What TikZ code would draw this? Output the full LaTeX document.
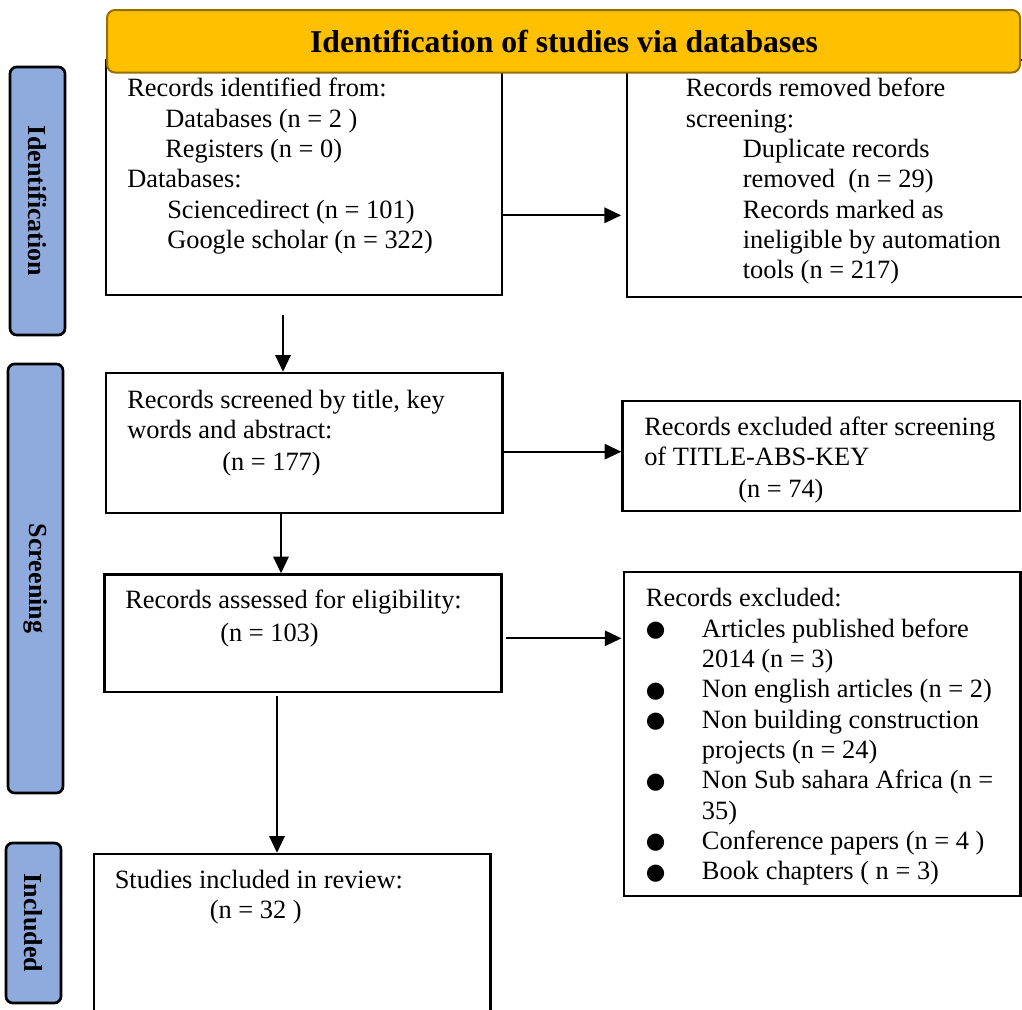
\documentclass[tikz,border=0pt]{standalone}
\usepackage{fontspec}
\setmainfont{Liberation Serif}
\newfontfamily\dejavu{DejaVu Sans}
\usetikzlibrary{arrows.meta,fit,calc}
\definecolor{hdrfill}{RGB}{255,192,0}
\definecolor{hdrline}{RGB}{150,110,0}
\definecolor{sidefill}{RGB}{143,170,220}
\newcommand\pbul{\makebox[42pt][l]{\raisebox{0.5pt}{\scalebox{0.85}{\dejavu ●}}}}
\begin{document}
\begin{tikzpicture}[x=0.75pt,y=-0.75pt,
  box/.style={draw=black, line width=1.8pt, inner sep=0pt, fill=white},
  hdrbox/.style={draw=hdrline, line width=1.5pt, fill=hdrfill, rounded corners=6pt, inner sep=0pt},
  hdrtxt/.style={font=\bfseries\fontsize{23.8}{28}\selectfont, inner sep=0pt},
  sidebox/.style={draw=black, line width=2pt, fill=sidefill, rounded corners=5pt, inner sep=0pt},
  sidetxt/.style={rotate=-90, font=\bfseries\fontsize{19.5}{23}\selectfont, inner sep=0pt},
  txt/.style={anchor=north west, inner sep=0pt, align=left, font=\fontsize{19.8}{22.75}\selectfont},
  arr/.style={line width=1.5pt, -{Triangle[length=12.5pt,width=11.5pt]}}]
\useasboundingbox (0,0) rectangle (1022,1010);

% side labels
\node[sidebox, fit={(10,67) (65,335)}] (s1) {};
\node[sidetxt] (s1t) at (s1.center) {Identification};
\node[sidebox, fit={(8,364) (63,793)}] (s2) {};
\node[sidetxt] (s2t) at (s2.center) {Screening};
\node[sidebox, fit={(6,843) (61,1003)}] (s3) {};
\node[sidetxt] (s3t) at (s3.center) {Included};

% boxes
\node[box, fit={(106,60) (502,295)}] (b1) {};
\node[box, fit={(627,60) (1040,297)}] (b2) {};
\node[box, fit={(106,373) (502.5,513)}] (b3) {};
\node[box, fit={(622.5,401) (1020,511)}] (b4) {};
\node[box, fit={(104.5,574.5) (501.5,692)}] (b5) {};
\node[box, fit={(624,572) (1020.5,896)}] (b6) {};
\node[box, fit={(94,854) (490.5,1030)}] (b7) {};

% header
\node[hdrbox, fit={(107,10) (1020,72.5)}] (hdr) {};
\node[hdrtxt, anchor=base] (hdrt) at (564,52) {Identification of studies via databases};

% texts
\node[txt] (t1) at (127,76.7) {\rule{0pt}{15pt}Records identified from:\\
\hspace*{28.5pt}Databases (n = 2 )\\
\hspace*{28.5pt}Registers (n = 0)\\
Databases:\\
\hspace*{30pt}Sciencedirect (n = 101)\\
\hspace*{30pt}Google scholar (n = 322)};

\node[txt] (t2) at (685.5,76.7) {\rule{0pt}{15pt}Records removed before\\
screening:\\
\hspace*{42.75pt}Duplicate records\\
\hspace*{42.75pt}removed\ \ (n = 29)\\
\hspace*{42.75pt}Records marked as\\
\hspace*{42.75pt}ineligible by automation\\
\hspace*{42.75pt}tools (n = 217)};

\node[txt] (t3) at (127,388) {\rule{0pt}{15pt}Records screened by title, key\\
words and abstract:\\[1pt]
\hspace*{71.25pt}(n = 177)};

\node[txt] (t4) at (644,415) {\rule{0pt}{15pt}Records excluded after screening\\
of TITLE-ABS-KEY\\[1pt]
\hspace*{70.5pt}(n = 74)};

\node[txt] (t5) at (125,588.3) {\rule{0pt}{15pt}Records assessed for eligibility:\\[2pt]
\hspace*{71.25pt}(n = 103)};

\node[txt] (t6) at (645.7,586.7) {\rule{0pt}{15pt}Records excluded:\\
\pbul Articles published before\\
\hspace*{42pt}2014 (n = 3)\\
\pbul Non english articles (n = 2)\\
\pbul Non building construction\\
\hspace*{42pt}projects (n = 24)\\
\pbul Non Sub sahara Africa (n =\\
\hspace*{42pt}35)\\
\pbul Conference papers (n = 4 )\\
\pbul Book chapters ( n = 3)};

\node[txt] (t7) at (114.5,868) {\rule{0pt}{15pt}Studies included in review:\\
\hspace*{71.25pt}(n = 32 )};

% connectors
\coordinate (c2) at (283,315);
\coordinate (c4) at (281,0);
\coordinate (c6) at (277,696);
\coordinate (c1) at (0,215.3);
\coordinate (c3) at (0,451.7);
\coordinate (c5) at (0,638.3);
\draw[arr] (b1.east |- c1) -- ([xshift=-3.5pt]b2.west |- c1);
\draw[arr] (c2) -- (c2 |- b3.north);
\draw[arr] (b3.east |- c3) -- (b4.west |- c3);
\draw[arr] (b3.south -| c4) -- (b5.north -| c4);
\draw[arr] ([xshift=2.5pt]b5.east |- c5) -- ([xshift=-1pt]b6.west |- c5);
\draw[arr] (c6) -- (c6 |- b7.north);
\end{tikzpicture}
\end{document}
